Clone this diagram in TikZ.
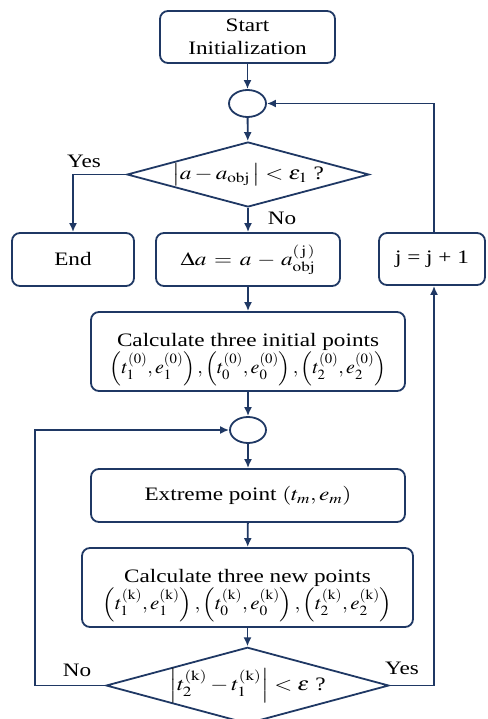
\documentclass[tikz,border=0pt]{standalone}
\usepackage{mathptmx}
\usepackage[no-math]{fontspec}
\setmainfont{Liberation Serif}
\usepackage{graphicx}
\usetikzlibrary{shapes.geometric,arrows.meta}
\definecolor{navy}{RGB}{31,56,100}
\newcommand\sx[1]{\scalebox{1.22}[1]{#1}}
\newcommand\mx[1]{\scalebox{1.05}[1]{#1}}
\tikzset{
  box/.style={draw=navy,line width=1.8pt,rounded corners=8pt,inner sep=0pt,align=center,
    font=\fontsize{19}{26}\selectfont},
  ell/.style={draw=navy,line width=1.8pt,ellipse,inner sep=0pt},
  dia/.style={draw=navy,line width=1.8pt,diamond,inner sep=0pt,aspect=3.7,
    font=\fontsize{19}{25}\selectfont},
  conn/.style={draw=navy,line width=1.8pt,-{Latex[length=9pt,width=8pt]}},
  lbl/.style={font=\fontsize{19}{20}\selectfont,inner sep=0pt}
}
\begin{document}
\begin{tikzpicture}[x=1pt,y=1pt]
\useasboundingbox (0,0) rectangle (487,-719);
\node[box,minimum width=175,minimum height=52] (start) at (247.5,-37) {\sx{Start}\\[-3pt]\sx{Initialization}};
\node[ell,minimum width=37,minimum height=27] (c1) at (247.5,-103.5) {};
\node[dia,minimum width=242,minimum height=65] (d1) at (248,-174.5)
  {\sx{$\left|a - a_{\mathrm{obj}}\,\right| < \varepsilon_1$ ?}};
\node[box,minimum width=122,minimum height=53] (endb) at (73,-259.5) {\sx{End}};
\node[box,minimum width=184,minimum height=53] (da) at (248,-259.5)
  {\sx{$\Delta a \,=\, a \,-\, a^{(\,\mathrm{j}\,)}_{\mathrm{obj}}$}};
\node[box,minimum width=106,minimum height=52] (jb) at (432,-259) {\sx{j = j + 1}};
\node[box,minimum width=314,minimum height=79] (calc1) at (248,-351.5)
  {\rule{0pt}{30pt}\sx{Calculate three initial points}\\[1pt]
   \mx{$\left(t_1^{(0)}, e_1^{(0)}\right), \left(t_0^{(0)}, e_0^{(0)}\right), \left(t_2^{(0)}, e_2^{(0)}\right)$}};
\node[ell,minimum width=36,minimum height=26] (c2) at (248,-430) {};
\node[box,minimum width=314,minimum height=53] (ext) at (248,-495.5)
  {\sx{Extreme point $\left(t_m , e_m\right)$}};
\node[box,minimum width=331,minimum height=79] (calc2) at (247.5,-587.5)
  {\rule{0pt}{30pt}\sx{Calculate three new points}\\[1pt]
   \scalebox{1.1}[1]{$\left(t_1^{(\mathrm{k})}, e_1^{(\mathrm{k})}\right), \left(t_0^{(\mathrm{k})}, e_0^{(\mathrm{k})}\right), \left(t_2^{(\mathrm{k})}, e_2^{(\mathrm{k})}\right)$}};
\node[dia,minimum width=279,minimum height=65] (d2) at (247.5,-685.5)
  {\sx{$\left|t_2^{(\mathrm{k})} - t_1^{(\mathrm{k})}\right| < \varepsilon$ ?}};
\coordinate (L) at (35,-685.5);
\coordinate (R) at (434,-685.5);
\coordinate (T) at (434,-103.5);
% connectors
\draw[conn] (start) -- (c1);
\draw[conn] (c1) -- (d1);
\draw[conn] (d1) -- (da);
\draw[conn] (d1.west) -| (endb.north);
\draw[conn] (da) -- (calc1);
\draw[conn] (calc1) -- (c2);
\draw[conn] (c2) -- (ext);
\draw[conn] (ext) -- (calc2);
\draw[conn] (calc2) -- (d2);
\draw[conn] (d2.east) -- (R) -- (R |- jb.south);
\draw[conn] (T |- jb.north) -- (T) -- (c1.east);
\draw[conn] (d2.west) -- (L) |- (c2.west);
% labels
\node[lbl] (yes1) at (84,-161) {\sx{Yes}};
\node[lbl] (no1) at (282,-218) {\sx{No}};
\node[lbl] (no2) at (77,-670) {\sx{No}};
\node[lbl] (yes2) at (402,-668) {\sx{Yes}};
\end{tikzpicture}
\end{document}
